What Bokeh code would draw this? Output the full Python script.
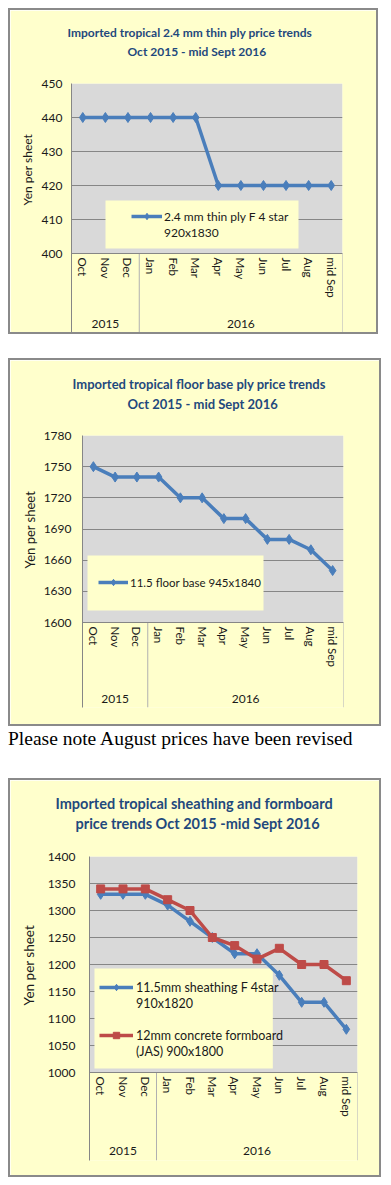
from bokeh.plotting import figure
from bokeh.models import (FactorRange, Range1d, FixedTicker, BoxAnnotation, Legend,
                          LegendItem, Title, Div)
from bokeh.embed import file_html
from bokeh.resources import INLINE
from bokeh.core.properties import value

# ---------------- data ----------------
months = ["Oct", "Nov", "Dec", "Jan", "Feb", "Mar", "Apr", "May", "Jun", "Jul", "Aug", "mid Sep"]
years = ["2015", "2016"]
months_per_year = [3, 9]

thin_ply = [440, 440, 440, 440, 440, 440, 420, 420, 420, 420, 420, 420]
floor_base = [1750, 1740, 1740, 1740, 1720, 1720, 1700, 1700, 1680, 1680, 1670, 1650]
sheathing = [1330, 1330, 1330, 1310, 1280, 1250, 1220, 1220, 1180, 1130, 1130, 1080]
formboard = [1340, 1340, 1340, 1320, 1300, 1250, 1235, 1210, 1230, 1200, 1200, 1170]

ticks1 = [400, 410, 420, 430, 440, 450]
ticks2 = [1600, 1630, 1660, 1690, 1720, 1750, 1780]
ticks3 = [1000, 1050, 1100, 1150, 1200, 1250, 1300, 1350, 1400]

title1 = ["Imported tropical 2.4 mm thin ply price trends", "Oct 2015 - mid  Sept 2016"]
title2 = ["Imported tropical floor base ply price trends", "Oct 2015 - mid Sept 2016"]
title3 = ["Imported tropical sheathing and formboard", "price trends Oct 2015 -mid Sept 2016"]

label1 = [["2.4 mm thin ply F 4 star", "920x1830"]]
label2 = [["11.5 floor base 945x1840"]]
label3 = [["11.5mm sheathing F 4star", "910x1820"], ["12mm concrete formboard", "(JAS) 900x1800"]]

y_label = "Yen per sheet"
note = "Please note August prices have been revised"

# ---------------- style ----------------
YELLOW = "#FFFFCC"
GRAY = "#D9D9D9"
GRID = "#868686"
BLUE = "#4A7EBB"
RED = "#BE4B48"
TITLE_C = "#1F497D"
TXT = "#1a1a1a"
FONT = "Lato"


def make_chart(width, height, mb_left, mb_right, mb_top, mb_bottom, plot_h, cat_h,
               ticks, tick_standoff, titles, title_size, title_offsets, title_standoff,
               spacer_standoff, ylab_size, ylab_standoff, ylab_offset, year_dy,
               series, legend_box, legend_loc, legend_font, legend_kw, margin):
    y_lo, y_hi = ticks[0], ticks[-1]
    upp = (y_hi - y_lo) / plot_h
    y_min = y_lo - cat_h * upp

    p = figure(width=width, height=height, output_backend="svg", toolbar_location=None,
               x_range=FactorRange(factors=months, range_padding=0),
               y_range=Range1d(y_min, y_hi),
               min_border_left=mb_left, min_border_right=mb_right,
               min_border_top=mb_top, min_border_bottom=mb_bottom,
               border_fill_color=YELLOW, background_fill_color=YELLOW,
               outline_line_color=None, margin=margin,
               styles={"outline": "2px solid #8a8a8a"})

    # plot-area grey
    p.add_layout(BoxAnnotation(bottom=y_lo, top=y_hi, fill_color=GRAY, fill_alpha=1,
                               line_color=None, level="image"))

    # titles: spacer closest to the plot, then line 2, then line 1
    spacer = Title(text=" ", text_font=FONT, text_font_size="10px", standoff=spacer_standoff)
    t2 = Title(text=titles[1], align="left", offset=title_offsets[1],
               text_font=FONT, text_font_style="bold", text_font_size=title_size,
               text_color=TITLE_C, standoff=title_standoff)
    t1 = Title(text=titles[0], align="left", offset=title_offsets[0],
               text_font=FONT, text_font_style="bold", text_font_size=title_size,
               text_color=TITLE_C, standoff=title_standoff)
    p.add_layout(spacer, "above")
    p.add_layout(t2, "above")
    p.add_layout(t1, "above")

    # y axis
    ya = p.yaxis[0]
    ya.ticker = FixedTicker(ticks=ticks)
    ya.axis_line_color = GRID
    ya.major_tick_in = 0
    ya.major_tick_out = 0
    ya.minor_tick_line_color = None
    ya.major_label_text_font = FONT
    ya.major_label_text_font_size = "12px"
    ya.major_label_text_color = TXT
    ya.major_label_standoff = tick_standoff

    # y-axis title, placed as a rotated title on the left
    yt = Title(text=y_label, align="left", offset=ylab_offset, text_font=FONT,
               text_font_style="normal", text_font_size=ylab_size, text_color=TXT,
               standoff=ylab_standoff)
    p.add_layout(yt, "left")

    # category axis at the bottom of the grey area
    xa = p.xaxis[0]
    xa.fixed_location = y_lo
    xa.axis_line_color = GRID
    xa.major_tick_in = 0
    xa.major_tick_out = 0
    xa.major_label_orientation = "vertical"
    xa.major_label_text_font = FONT
    xa.major_label_text_font_size = "11.5px"
    xa.major_label_text_color = TXT
    xa.major_label_standoff = 4

    p.ygrid.grid_line_color = GRID
    p.xgrid.visible = False

    # group separators and year labels
    bounds = [0]
    for n in months_per_year:
        bounds.append(bounds[-1] + n)
    p.segment(x0=bounds[1:], x1=bounds[1:], y0=[y_lo] * (len(bounds) - 1),
              y1=[y_min] * (len(bounds) - 1), line_color="#B0B0B0", line_width=1)
    centers = [(bounds[i] + bounds[i + 1]) / 2 for i in range(len(years))]
    p.text(x=centers, y=[y_lo - year_dy * upp] * len(years), text=years,
           text_align="center", text_baseline="middle",
           text_font=value(FONT), text_font_size="12px", text_color=TXT)

    # legend background
    bx0, bx1, by0, by1 = legend_box  # pixel offsets from frame left / plot-bottom
    fw = width - mb_left - mb_right
    upx = len(months) / fw
    p.add_layout(BoxAnnotation(left=bx0 * upx, right=bx1 * upx,
                               bottom=y_lo + by0 * upp, top=y_lo + by1 * upp,
                               fill_color=YELLOW, fill_alpha=1, line_color=None,
                               level="underlay"))

    # invisible renderer used for continuation lines of the legend labels
    blank = p.line(x=[], y=[], line_alpha=0)

    items = []
    for k, (vals, color, marker, msize, lab) in enumerate(series):
        ln = p.line(months, vals, line_color=color, line_width=3.5)
        sc = p.scatter(months, vals, marker=marker, size=msize, fill_color=color,
                       line_color=color)
        if k > 0:
            items.append(LegendItem(label=" ", renderers=[blank]))
        items.append(LegendItem(label=lab[0], renderers=[ln, sc]))
        for extra in lab[1:]:
            items.append(LegendItem(label=extra, renderers=[blank]))

    leg = Legend(items=items, location=legend_loc, background_fill_alpha=0,
                 border_line_color=None, margin=0, padding=0, spacing=0,
                 glyph_height=16, label_height=16,
                 label_text_font=FONT, label_text_font_size=legend_font,
                 label_text_color=TXT, **legend_kw)
    p.add_layout(leg, "center")
    return p


p1 = make_chart(366, 322, 61, 34, 73, 0, 170, 79, ticks1, 9, title1, "12px", (-4, 56), 2, 10,
                "12px", 8, 127, 70, [(thin_ply, BLUE, "diamond", 10, label1[0])],
                (34, 227, 5, 53), (60, 92), "12px",
                dict(glyph_width=31, label_standoff=2), (10, 0, 0, 10))
p2 = make_chart(369, 364, 72, 36, 75, 17, 187, 85, ticks2, 11, title2, "13px", (-10, 45), 2, 9,
                "13px", 6, 139, 76, [(floor_base, BLUE, "diamond", 10, label2[0])],
                (5, 181, 12, 67), (16, 117), "11.5px",
                dict(glyph_width=30, label_standoff=2), (28, 0, 0, 10))
p3 = make_chart(369, 395, 78, 22, 76, 15, 216, 88, ticks3, 14, title3, "14.5px", (-34, -14), 1, 10,
                "13.5px", 16, 155, 78, [(sheathing, BLUE, "diamond", 10, label3[0]),
                                        (formboard, RED, "square", 8, label3[1])],
                (5, 184, 4, 104), (10, 101), "12.5px",
                dict(glyph_width=34, label_standoff=3), (0, 0, 0, 10))

div = Div(text=note, width=373, height=56, margin=(0, 0, 0, 8),
          styles={"font-family": "'Liberation Serif', 'Times New Roman', serif",
                  "font-size": "19.5px", "color": "#000", "padding-top": "1px"})

open("out.html", "w").write(file_html([p1, p2, div, p3], INLINE))
